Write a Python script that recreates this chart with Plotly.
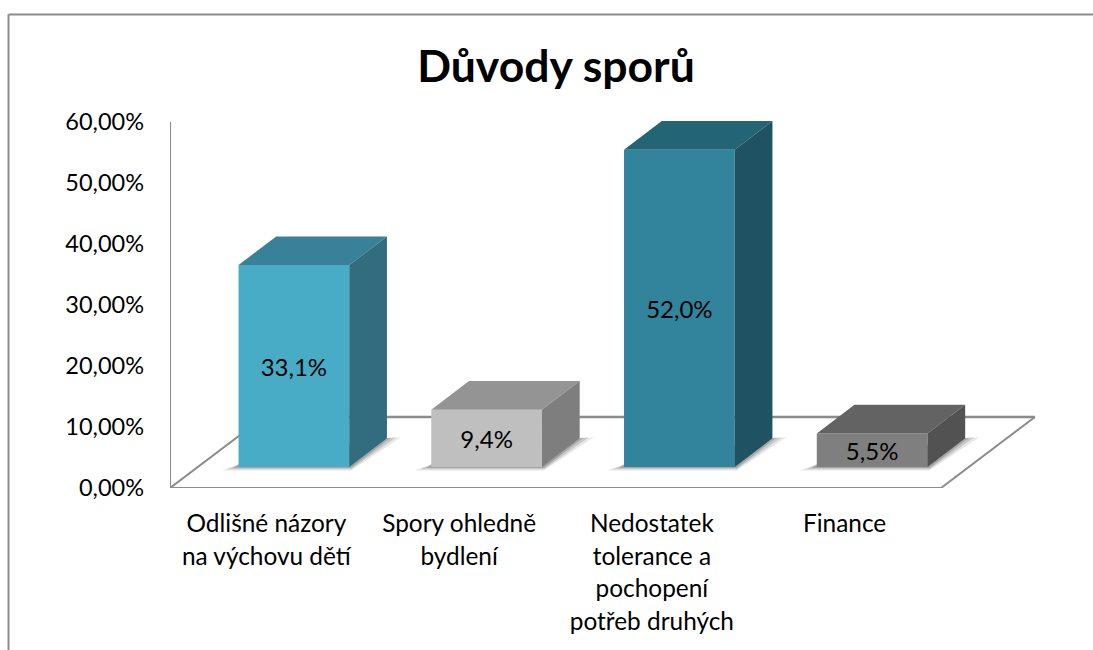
import plotly.graph_objects as go

categories = [
    'Odlišné názory<br>na výchovu dětí',
    'Spory ohledně<br>bydlení',
    'Nedostatek<br>tolerance a<br>pochopení<br>potřeb druhých',
    'Finance',
]
values = [33.1, 9.4, 52.0, 5.5]
y_ticks = [0, 10, 20, 30, 40, 50, 60]

front_colors = ['#49ACC6', '#BFBFBF', '#31849B', '#7F7F7F']
top_colors = ['#388199', '#949494', '#246575', '#636363']
side_colors = ['#316D7F', '#7E7E7E', '#1F5363', '#525252']

W, H = 1093, 650
LEFT, BOTTOM = 170, 488   # pixel position of the axes corner
PX_CAT = 192.75
PX_PCT = 6.1
FONT = 'Lato'
AXIS_COL = '#8C8C8C'


def dx(px):
    return px / PX_CAT


def dy(px):
    return px / PX_PCT


def paper_x(px):
    return (px - LEFT) / (1060 - LEFT)


def paper_y(px):
    return (BOTTOM - px) / (BOTTOM - 100)


bar_w = dx(110.7)
shift = dx(27.5)       # bars stand inside the floor, not on its front edge
lift = dy(21)
depth_x = dx(37.7)
depth_y = dy(28.7)
floor_x = dx(94)
floor_y = dy(71)

fig = go.Figure()

xs = [i + shift for i in range(len(values))]

fig.add_trace(go.Bar(
    x=xs,
    y=values,
    base=lift,
    width=bar_w,
    marker=dict(color=front_colors, line=dict(width=0)),
    text=[f'{v:.1f}%'.replace('.', ',') for v in values],
    textposition='inside',
    insidetextanchor='middle',
    textangle=0,
    insidetextfont=dict(family=FONT, size=24, color='#000000'),
    constraintext='none',
    hoverinfo='skip',
    showlegend=False,
))

# 3D faces of each bar
shapes = []
for i, v in enumerate(values):
    x0 = xs[i] - bar_w / 2
    x1 = xs[i] + bar_w / 2
    y0 = lift
    y1 = lift + v
    fig.add_trace(go.Scatter(
        x=[x0, x1, x1 + depth_x, x0 + depth_x, x0],
        y=[y1, y1, y1 + depth_y, y1 + depth_y, y1],
        mode='lines', fill='toself', fillcolor=top_colors[i],
        line=dict(width=0), hoverinfo='skip', showlegend=False,
        cliponaxis=False,
    ))
    fig.add_trace(go.Scatter(
        x=[x1, x1 + depth_x, x1 + depth_x, x1, x1],
        y=[y1, y1 + depth_y, y0 + depth_y, y0, y1],
        mode='lines', fill='toself', fillcolor=side_colors[i],
        line=dict(width=0), hoverinfo='skip', showlegend=False,
        cliponaxis=False,
    ))
    # soft shadow on the floor
    for grow, alpha in [(1.0, 0.12), (0.65, 0.18), (0.3, 0.25)]:
        pts = [
            (x0 + dx(1), y0 + dy(3)),
            (x0 - dx(17 * grow), y0 - dy(3.5 * grow)),
            (x1 + dx(2), y0 - dy(3.5 * grow)),
            (x1 + depth_x + dx(14 * grow), y0 + depth_y + dy(1)),
            (x1 + depth_x, y0 + depth_y),
        ]
        path = 'M ' + ' L '.join(f'{a},{b}' for a, b in pts) + ' Z'
        shapes.append(dict(type='path', path=path, xref='x', yref='y',
                           fillcolor=f'rgba(60,60,60,{alpha})',
                           line=dict(width=0), layer='below'))

# floor outline and value axis
x_a, x_b = -0.5, len(values) - 0.5
floor_lines = [
    (x_a, 0, x_b, 0, 2),
    (x_b, 0, x_b + floor_x, floor_y, 2),
    (x_a + floor_x, floor_y, x_b + floor_x, floor_y, 2.5),
    (x_a, 0, x_a + floor_x, floor_y, 2),
    (x_a, 0, x_a, y_ticks[-1], 2),
]
for xa, ya, xb, yb, lw in floor_lines:
    shapes.append(dict(type='line', x0=xa, y0=ya, x1=xb, y1=yb,
                       xref='x', yref='y', layer='below',
                       line=dict(color=AXIS_COL, width=lw)))

# chart frame, cut off by the right and bottom page edges
shapes.append(dict(type='line', xref='paper', yref='paper',
                   x0=paper_x(8.5), x1=paper_x(W), y0=paper_y(14.5), y1=paper_y(14.5),
                   line=dict(color=AXIS_COL, width=2)))
shapes.append(dict(type='line', xref='paper', yref='paper',
                   x0=paper_x(8.5), x1=paper_x(8.5), y0=paper_y(14.5), y1=paper_y(H),
                   line=dict(color=AXIS_COL, width=2)))

fig.update_layout(
    width=W,
    height=H,
    autosize=False,
    margin=dict(l=LEFT, r=W - 1060, t=100, b=H - BOTTOM, pad=0),
    paper_bgcolor='white',
    plot_bgcolor='rgba(0,0,0,0)',
    showlegend=False,
    shapes=shapes,
    title=dict(
        text='<b>Důvody sporů</b>',
        x=556 / W, xanchor='center', xref='container',
        y=1 - 66 / H, yanchor='middle', yref='container',
        font=dict(family=FONT, size=44.5, color='#000000'),
    ),
    xaxis=dict(
        range=[-0.5, -0.5 + (1060 - LEFT) / PX_CAT],
        tickvals=list(range(len(categories))),
        # big base size keeps the wide line spacing of the original
        ticktext=[
            '<br>'.join(f'<span style="font-size:24.4px">{p}</span>' for p in c.split('<br>'))
            for c in categories
        ],
        tickfont=dict(family=FONT, size=25, color='#000000'),
        tickangle=0,
        showgrid=False, zeroline=False, showline=False, ticks='',
        ticklabelstandoff=18,
    ),
    yaxis=dict(
        range=[0, (BOTTOM - 100) / PX_PCT],
        tickvals=y_ticks,
        ticktext=[f'{t:.2f}%'.replace('.', ',') for t in y_ticks],
        tickfont=dict(family=FONT, size=23.5, color='#000000'),
        showgrid=False, zeroline=False, showline=False, ticks='',
        ticklabelstandoff=25,
    ),
)

fig.write_html('out.html', post_script="document.body.style.margin='0'",
               config=dict(displayModeBar=False))
